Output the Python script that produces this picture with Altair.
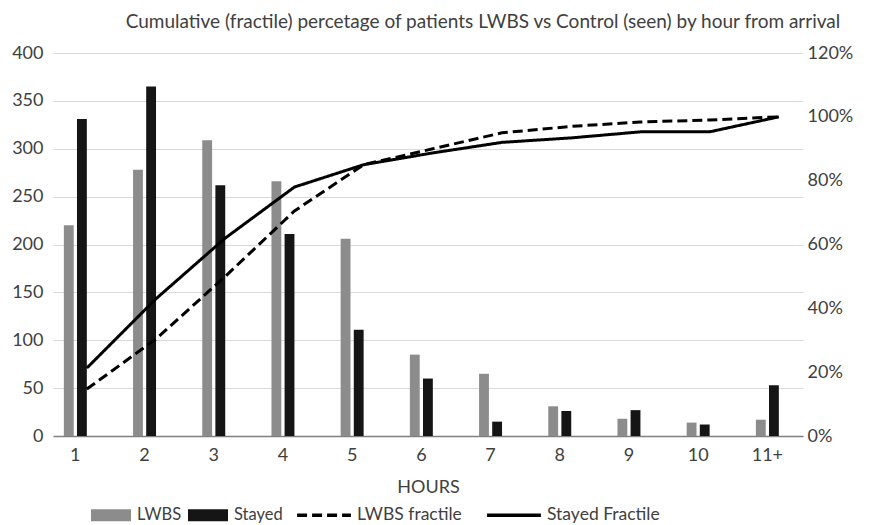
import altair as alt
import pandas as pd

hours = ["1", "2", "3", "4", "5", "6", "7", "8", "9", "10", "11+"]
lwbs = [220, 278, 309, 266, 206, 85, 65, 31, 18, 14, 17]
stayed = [331, 365, 262, 211, 111, 60, 15, 26, 27, 12, 53]
lwbs_frac = [0.147, 0.304, 0.50, 0.705, 0.85, 0.90, 0.95, 0.97, 0.984, 0.99, 1.0]
stayed_frac = [0.213, 0.43, 0.62, 0.78, 0.85, 0.887, 0.92, 0.934, 0.953, 0.953, 1.0]

bar_series = ["LWBS", "Stayed"]
line_series = ["LWBS fractile", "Stayed Fractile"]

bars_df = pd.DataFrame(
    [{"hour": h, "series": "LWBS", "count": v} for h, v in zip(hours, lwbs)]
    + [{"hour": h, "series": "Stayed", "count": v} for h, v in zip(hours, stayed)]
)
lines_df = pd.DataFrame(
    [{"hour": h, "line": "LWBS fractile", "frac": v} for h, v in zip(hours, lwbs_frac)]
    + [{"hour": h, "line": "Stayed Fractile", "frac": v} for h, v in zip(hours, stayed_frac)]
)

FONT = "Lato"
TXT = "#404040"

xscale = alt.Scale(domain=hours, paddingInner=0.668, paddingOuter=0.253, align=0.31)
xaxis = alt.Axis(title="HOURS", labelAngle=0, ticks=False, domainColor="#7f7f7f",
                 domainWidth=1.5, labelFontSize=18, labelColor=TXT, titleFontSize=18,
                 titleColor=TXT, titleFontWeight="normal", labelPadding=10, titlePadding=14,
                 grid=False)

bars = alt.Chart(bars_df).mark_bar().encode(
    x=alt.X("hour:N", sort=hours, scale=xscale, axis=xaxis),
    xOffset=alt.XOffset("series:N", sort=bar_series,
                        scale=alt.Scale(domain=bar_series, paddingInner=0.25, paddingOuter=0)),
    y=alt.Y("count:Q", scale=alt.Scale(domain=[0, 400]),
            axis=alt.Axis(title=None, values=list(range(0, 401, 50)), ticks=False, domain=False,
                          labelFontSize=18, labelColor=TXT, gridColor="#d9d9d9",
                          labelPadding=10)),
    color=alt.Color("series:N", sort=bar_series,
                    scale=alt.Scale(domain=bar_series, range=["#8c8c8c", "#151515"]),
                    legend=alt.Legend(title=None, orient="none", direction="horizontal",
                                      legendX=38, legendY=452,
                                      symbolType="M-1,-0.6L3.0,-0.6L3.0,0.6L-1,0.6Z",
                                      symbolSize=400, symbolStrokeWidth=0,
                                      labelFontSize=16.5, labelColor=TXT, labelOffset=26,
                                      columnPadding=6)),
)

lines = alt.Chart(lines_df).mark_line(strokeWidth=3, color="black").encode(
    x=alt.X("hour:N", sort=hours, scale=xscale, bandPosition=1),
    y=alt.Y("frac:Q", scale=alt.Scale(domain=[0, 1.2]),
            axis=alt.Axis(title=None, orient="right", format=".0%",
                          values=[0, 0.2, 0.4, 0.6, 0.8, 1.0, 1.2], ticks=False,
                          domain=False, grid=False, labelFontSize=18, labelColor=TXT,
                          labelPadding=4)),
    strokeDash=alt.StrokeDash("line:N", sort=line_series,
                              scale=alt.Scale(domain=line_series, range=[[10, 5], [1, 0]]),
                              legend=alt.Legend(title=None, orient="none", direction="horizontal",
                                                legendX=242, legendY=433,
                                                symbolType="stroke", symbolSize=2900,
                                                symbolStrokeWidth=3.5, symbolStrokeColor="black",
                                                labelFontSize=17.5, labelColor=TXT, labelOffset=4,
                                                columnPadding=18)),
)

chart = alt.layer(bars, lines).resolve_scale(
    y="independent", color="independent", strokeDash="independent"
).properties(
    width=750, height=383,
    padding={"left": 3, "top": 5, "right": 5, "bottom": 0},
    title=alt.TitleParams("Cumulative (fractile) percetage of patients LWBS vs Control (seen) by hour from arrival",
                          fontSize=19, fontWeight="normal", color=TXT, font=FONT, offset=12,
                          dx=55),
).configure(font=FONT).configure_view(stroke=None)

chart.save("out.html", embed_options={"renderer": "svg", "actions": False})
